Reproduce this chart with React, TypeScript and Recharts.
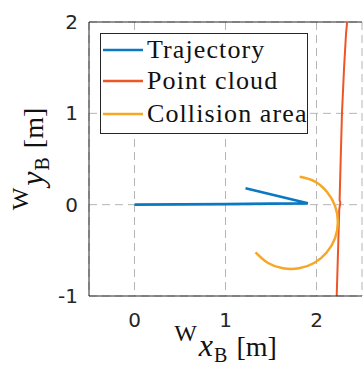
import React from 'react';
import { LineChart, Line, XAxis, YAxis, CartesianGrid, ReferenceLine, Legend } from 'recharts';

const xTicks = [0, 1, 2];
const yTicks = [-1, 0, 1, 2];
const seriesNames = ['Trajectory', 'Point cloud', 'Collision area'];
const seriesColors = ['#0A78C2', '#EE5527', '#F6A726'];

const trajectory = [
  { x: 0, y: 0 },
  { x: 0.5, y: 0.003 },
  { x: 1, y: 0.007 },
  { x: 1.5, y: 0.011 },
  { x: 1.905, y: 0.015 },
  { x: 1.22, y: 0.18 },
];

const pointCloud = [
  { x: 2.222, y: -1 },
  { x: 2.237, y: -0.5 },
  { x: 2.25, y: -0.05 },
  { x: 2.262, y: 0.02 },
  { x: 2.254, y: 0.05 },
  { x: 2.266, y: 0.5 },
  { x: 2.28, y: 1 },
  { x: 2.303, y: 1.5 },
  { x: 2.325, y: 1.88 },
  { x: 2.337, y: 2 },
];

const collisionArea = [
  { x: 1.815, y: 0.305 },
  { x: 1.978, y: 0.256 },
  { x: 2.114, y: 0.141 },
  { x: 2.204, y: -0.014 },
  { x: 2.235, y: -0.19 },
  { x: 2.204, y: -0.366 },
  { x: 2.114, y: -0.521 },
  { x: 1.978, y: -0.636 },
  { x: 1.809, y: -0.697 },
  { x: 1.631, y: -0.697 },
  { x: 1.463, y: -0.636 },
  { x: 1.33, y: -0.523 },
];

const AXIS = '#262626';
const SERIF = '"Liberation Serif", "DejaVu Serif", serif';
const SANS = '"DejaVu Sans", sans-serif';

const XTick = (props: any) => (
  <text x={props.x} y={props.y + 31} textAnchor="middle" fontFamily={SANS} fontSize={20} fill={AXIS}>
    {props.payload.value}
  </text>
);

const YTick = (props: any) => (
  <text x={props.x - 11} y={props.y + 7} textAnchor="end" fontFamily={SANS} fontSize={20} fill={AXIS}>
    {props.payload.value}
  </text>
);

const labelParts = (v: string) => [
  <tspan key="w" fontSize={24} dy={-15}>W</tspan>,
  <tspan key="v" fontStyle="italic" fontSize={32} dx={2} dy={15}>{v}</tspan>,
  <tspan key="b" fontSize={20} dx={1} dy={6}>B</tspan>,
  <tspan key="m" dx={9} dy={-6}>[m]</tspan>,
];

const XLabel = (props: any) => {
  const vb = props.viewBox || { x: 89, width: 273 };
  const cx = vb.x + vb.width / 2;
  return (
    <text x={cx} y={356} textAnchor="middle" fontFamily={SERIF} fontSize={28} fill="#111">
      {labelParts('x')}
    </text>
  );
};

const YLabel = (props: any) => {
  const vb = props.viewBox || { y: 22, height: 274 };
  const cy = vb.y + vb.height / 2;
  const bx = 43;
  return (
    <text x={bx} y={cy} transform={`rotate(-90, ${bx}, ${cy})`} textAnchor="middle" fontFamily={SERIF} fontSize={28} fill="#111">
      {labelParts('y')}
    </text>
  );
};

const LegendBox = () => (
  <svg width={208} height={101} style={{ display: 'block' }}>
    <rect x={0.5} y={0.5} width={207} height={100} fill="#fff" stroke={AXIS} strokeWidth={1} />
    {seriesNames.map((n, i) => {
      const cy = [17, 48, 81][i];
      return (
        <g key={n}>
          <line x1={3} x2={43} y1={cy} y2={cy} stroke={seriesColors[i]} strokeWidth={2.5} />
          <text x={47} y={cy + 8} fontFamily={SERIF} fontSize={26} letterSpacing={1.1} fill="#111">
            {n}
          </text>
        </g>
      );
    })}
  </svg>
);

export default function App() {
  return (
    <div style={{ position: 'absolute', left: 0, top: 0, width: 363, height: 367, overflow: 'hidden', background: '#fff' }}>
      <LineChart width={363} height={367} margin={{ top: 22, right: 1, left: 0, bottom: 0 }}>
        <CartesianGrid stroke="#b5b5b5" strokeDasharray="8 5" strokeWidth={1} />
        <XAxis
          type="number"
          dataKey="x"
          domain={[-0.5, 2.5]}
          ticks={xTicks}
          allowDataOverflow
          height={71}
          tickSize={0}
          tickMargin={0}
          tickLine={false}
          axisLine={{ stroke: AXIS, strokeWidth: 1 }}
          tick={<XTick />}
          label={<XLabel />}
        />
        <YAxis
          type="number"
          domain={[-1, 2]}
          ticks={yTicks}
          allowDataOverflow
          width={89}
          tickSize={0}
          tickMargin={0}
          tickLine={false}
          axisLine={{ stroke: AXIS, strokeWidth: 1 }}
          tick={<YTick />}
          label={<YLabel />}
        />
        <ReferenceLine y={2} stroke={AXIS} strokeWidth={1} />
        <Line data={trajectory} dataKey="y" type="linear" stroke={seriesColors[0]} strokeWidth={2.7} dot={false} isAnimationActive={false} />
        <Line data={pointCloud} dataKey="y" type="linear" stroke={seriesColors[1]} strokeWidth={2} dot={false} isAnimationActive={false} />
        <Line data={collisionArea} dataKey="y" type="natural" stroke={seriesColors[2]} strokeWidth={2.5} dot={false} isAnimationActive={false} />
        <Legend
          layout="horizontal"
          verticalAlign="middle"
          align="center"
          content={<LegendBox />}
          wrapperStyle={{ position: 'absolute', left: 100, top: 33, width: 208, height: 101 }}
        />
      </LineChart>
    </div>
  );
}
